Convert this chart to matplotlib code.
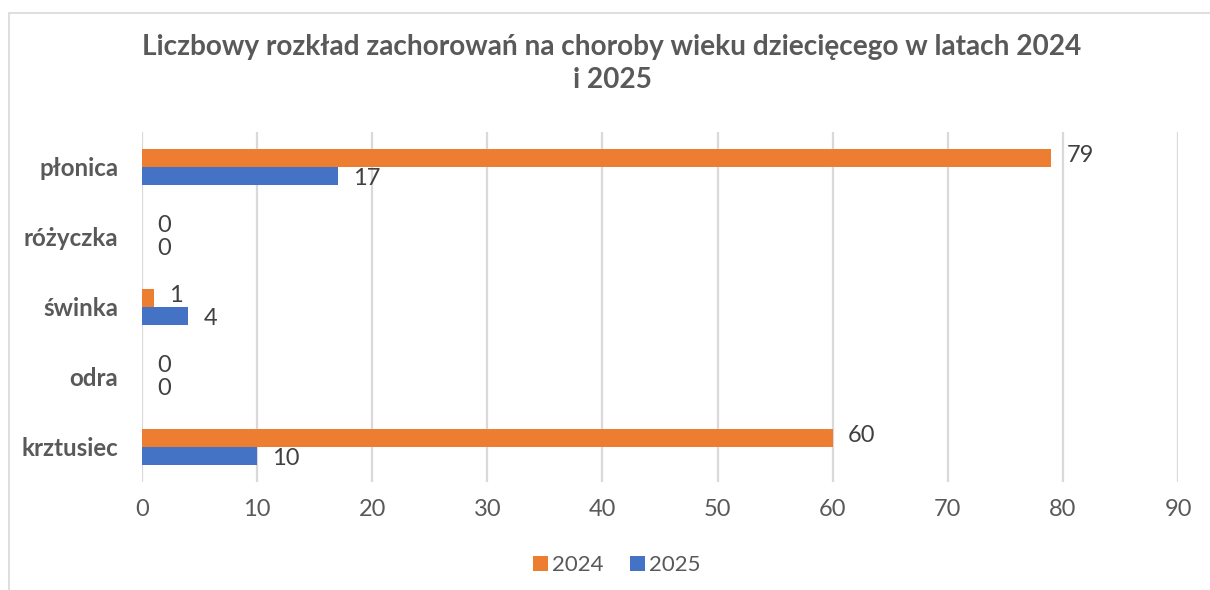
import numpy as np
import matplotlib.pyplot as plt
from matplotlib.patches import Rectangle

plt.rcParams['font.family'] = ['Lato', 'DejaVu Sans']

categories = ['krztusiec', 'odra', 'świnka', 'różyczka', 'płonica']
values_2024 = [60, 0, 1, 0, 79]
values_2025 = [10, 0, 4, 0, 17]
xticks = [0, 10, 20, 30, 40, 50, 60, 70, 80, 90]

orange = '#ED7D31'
blue = '#4472C4'
gray_text = '#595959'

fig = plt.figure(figsize=(12.1, 5.9), dpi=100)
ax = fig.add_axes([142/1210, 1-482/590, (1178-142)/1210, (482-132)/590])

y = np.arange(len(categories))
h = 0.26
b1 = ax.barh(y + h/2, values_2024, height=h, color=orange, label='2024', zorder=3)
b2 = ax.barh(y - h/2, values_2025, height=h, color=blue, label='2025', zorder=3)

for yy, v in zip(y, values_2024):
    ax.annotate(str(v), (v, yy + h/2), xytext=(11, 2), textcoords='offset points',
                ha='left', va='center', fontsize=17, color='#404040')
for yy, v in zip(y, values_2025):
    ax.annotate(str(v), (v, yy - h/2), xytext=(11, -2), textcoords='offset points',
                ha='left', va='center', fontsize=17, color='#404040')

ax.set_xlim(0, 90)
ax.set_ylim(-0.5, 4.5)
ax.set_xticks(xticks)
ax.set_yticks(y)
ax.set_yticklabels(categories, fontweight='bold')
ax.tick_params(axis='x', length=0, pad=12, labelsize=17, labelcolor=gray_text)
ax.tick_params(axis='y', length=0, pad=17, labelsize=17.4, labelcolor=gray_text)
ax.grid(axis='x', color='#d9d9d9', linewidth=1.6, zorder=0)
for s in ax.spines.values():
    s.set_visible(False)

fig.text(612/1210, 1-47/590, 'Liczbowy rozkład zachorowań na choroby wieku dziecięcego w latach 2024',
         ha='center', va='center', fontsize=20.2, fontweight='bold', color=gray_text)
fig.text(612/1210, 1-80/590, 'i 2025',
         ha='center', va='center', fontsize=20.2, fontweight='bold', color=gray_text)

fig.legend(handles=[b1, b2], loc='center', bbox_to_anchor=(617/1210, 1-565/590), ncol=2,
           frameon=False, fontsize=16, labelcolor=gray_text, handlelength=0.65,
           handleheight=0.65, handletextpad=0.2, columnspacing=1.2)

fig.patches.append(Rectangle((9/1210, -0.1), 1.2, 1-13/590+0.1, transform=fig.transFigure,
                             fill=False, edgecolor='#d9d9d9', linewidth=1.2))

fig.savefig('out.png', dpi=100)
